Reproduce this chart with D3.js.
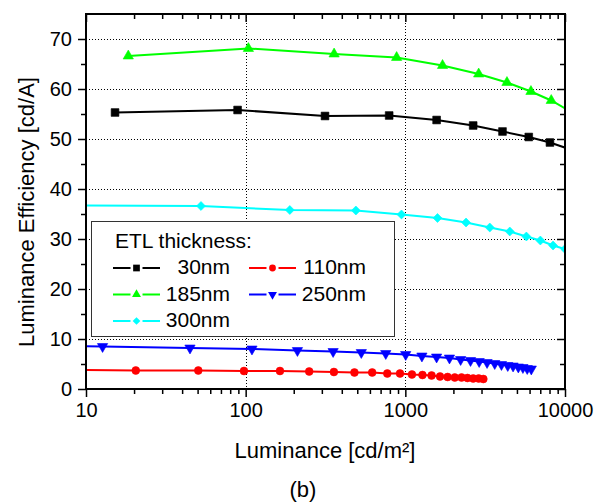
<!DOCTYPE html>
<html>
<head>
<meta charset="utf-8">
<script src="https://cdn.jsdelivr.net/npm/d3@7"></script>
<style>
  body { margin: 0; background: #fff; }
  svg { display: block; font-family: "Liberation Sans", Arial, sans-serif; }
</style>
</head>
<body>
<div id="chart"></div>
<script>
// luminance [cd/m2] and efficiency [cd/A]
const lum30 = [15.2, 89, 314, 792, 1570, 2660, 4060, 5930, 8050, 11500];
const eff30 = [55.3, 55.8, 54.6, 54.7, 53.8, 52.7, 51.5, 50.4, 49.3, 47.6];

const lum110 = [8, 20.5, 50.5, 97.6, 164, 250, 357, 480, 620, 771, 926, 1100, 1280, 1460, 1650, 1840, 2040, 2250, 2450, 2660, 2880, 3080];
const eff110 = [3.8, 3.7, 3.7, 3.6, 3.6, 3.5, 3.4, 3.3, 3.3, 3.1, 3.1, 2.9, 2.8, 2.7, 2.5, 2.4, 2.3, 2.3, 2.2, 2.1, 2.1, 2.0];

const lum185 = [18.4, 104, 358, 882, 1710, 2880, 4330, 6120, 8200, 11500];
const eff185 = [66.6, 68.1, 67.0, 66.3, 64.7, 63.0, 61.3, 59.5, 57.7, 55.0];

const lum250 = [8, 12.7, 44.8, 109.5, 211, 353, 530, 754, 1005, 1270, 1570, 1890, 2220, 2560, 2900, 3250, 3630, 4000, 4380, 4730, 5100, 5450, 5800, 6150];
const eff250 = [8.6, 8.5, 8.2, 8.0, 7.7, 7.5, 7.3, 7.1, 6.9, 6.6, 6.4, 6.2, 5.9, 5.7, 5.5, 5.3, 5.1, 4.9, 4.7, 4.6, 4.4, 4.3, 4.1, 4.0];

const lum300 = [8, 52.5, 189, 490, 946, 1590, 2400, 3380, 4510, 5730, 7010, 8420, 10000];
const eff300 = [36.7, 36.6, 35.8, 35.7, 34.9, 34.2, 33.3, 32.3, 31.5, 30.5, 29.7, 28.7, 28.0];

const seriesNames = ['30nm', '110nm', '185nm', '250nm', '300nm'];
const seriesColors = ['#000000', '#ff0000', '#00ff00', '#0000ff', '#00ffff'];
const seriesSymbols = ['square', 'circle', 'triangle', 'triangleDown', 'diamond'];

const xMajorTicks = [10, 100, 1000, 10000];
const xMinorTicks = [20, 30, 40, 50, 60, 70, 80, 90, 200, 300, 400, 500, 600, 700, 800, 900, 2000, 3000, 4000, 5000, 6000, 7000, 8000, 9000];
const yMajorTicks = [0, 10, 20, 30, 40, 50, 60, 70];
const yMinorTicks = [5, 15, 25, 35, 45, 55, 65];
const xGrid = [100, 1000];
const yGrid = [10, 20, 30, 40, 50, 60, 70];

const svgWidth = 598;
const svgHeight = 503;
const plot = { left: 86, right: 565, top: 14, bottom: 389 };

const svg = d3.select('#chart').append('svg').attr('width', svgWidth).attr('height', svgHeight);
svg.append('rect').attr('width', svgWidth).attr('height', svgHeight).attr('fill', '#fff');

const x = d3.scaleLog().domain([10, 10000]).range([plot.left, plot.right]);
const y = d3.scaleLinear().domain([0, 75]).range([plot.bottom, plot.top]);

svg.append('clipPath').attr('id', 'plot-clip')
  .append('rect')
  .attr('x', plot.left).attr('y', plot.top)
  .attr('width', plot.right - plot.left).attr('height', plot.bottom - plot.top);

// dotted grid
const grid = svg.append('g').attr('stroke', '#000').attr('stroke-width', 1).attr('stroke-dasharray', '1,2');
grid.selectAll('.gx').data(xGrid).join('line')
  .attr('x1', (d) => Math.round(x(d)) + 0.5).attr('x2', (d) => Math.round(x(d)) + 0.5)
  .attr('y1', plot.top).attr('y2', plot.bottom);
grid.selectAll('.gy').data(yGrid).join('line')
  .attr('y1', (d) => Math.round(y(d)) + 0.5).attr('y2', (d) => Math.round(y(d)) + 0.5)
  .attr('x1', plot.left).attr('x2', plot.right);

const symbolFor = (name, scale) => {
  if (name === 'square') return d3.symbol(d3.symbolSquare, 60 * scale)();
  if (name === 'circle') return d3.symbol(d3.symbolCircle, 48 * scale)();
  if (name === 'triangle' || name === 'triangleDown') return d3.symbol(d3.symbolTriangle, 46 * scale)();
  return d3.symbol(d3.symbolSquare, 40 * scale)();
};
const symbolRotate = (name) => (name === 'triangleDown' ? 180 : name === 'diamond' ? 45 : 0);

const allSeries = [
  { lum: lum30, eff: eff30 },
  { lum: lum110, eff: eff110 },
  { lum: lum185, eff: eff185 },
  { lum: lum250, eff: eff250 },
  { lum: lum300, eff: eff300 },
];

const line = d3.line().x((d) => x(d[0])).y((d) => y(d[1]));
const dataLayer = svg.append('g').attr('clip-path', 'url(#plot-clip)');

allSeries.forEach((s, i) => {
  const pts = s.lum.map((l, j) => [l, s.eff[j]]);
  dataLayer.append('path').datum(pts)
    .attr('fill', 'none').attr('stroke', seriesColors[i]).attr('stroke-width', 2)
    .attr('d', line);
  dataLayer.append('g').selectAll('path').data(pts.filter((d) => d[0] >= 10)).join('path')
    .attr('d', symbolFor(seriesSymbols[i], 1))
    .attr('transform', (d) => `translate(${x(d[0])},${y(d[1])}) rotate(${symbolRotate(seriesSymbols[i])})`)
    .attr('fill', seriesColors[i]).attr('stroke', seriesColors[i]).attr('stroke-width', 0.6);
});

// legend
const legend = svg.append('g');
legend.append('rect')
  .attr('x', 91.5).attr('y', 221.5).attr('width', 303).attr('height', 115)
  .attr('fill', '#fff').attr('stroke', '#333').attr('stroke-width', 1);
legend.append('text').attr('x', 115).attr('y', 248).style('font-size', '21px').text('ETL thickness:');

const legendCols = [{ x0: 113, textEnd: 230 }, { x0: 249, textEnd: 366 }];
const legendRows = [274, 300.5, 327];
const legendPos = [[0, 0], [1, 0], [0, 1], [1, 1], [0, 2]];
seriesNames.forEach((name, i) => {
  const col = legendCols[legendPos[i][0]];
  const base = legendRows[legendPos[i][1]];
  const cy = base - 6;
  const cx = col.x0 + 23.5;
  const g = legend.append('g');
  g.append('line').attr('x1', col.x0).attr('x2', cx - 6).attr('y1', cy).attr('y2', cy)
    .attr('stroke', seriesColors[i]).attr('stroke-width', 2);
  g.append('line').attr('x1', cx + 6).attr('x2', col.x0 + 47).attr('y1', cy).attr('y2', cy)
    .attr('stroke', seriesColors[i]).attr('stroke-width', 2);
  g.append('path').attr('d', symbolFor(seriesSymbols[i], 0.75))
    .attr('transform', `translate(${cx},${cy}) rotate(${symbolRotate(seriesSymbols[i])})`)
    .attr('fill', seriesColors[i]);
  g.append('text').attr('x', col.textEnd).attr('y', base).attr('text-anchor', 'end')
    .style('font-size', '21px').text(name);
});

// axes
const styleAxis = (g) => {
  g.select('.domain').remove();
  g.selectAll('.tick line').attr('stroke', '#000').attr('stroke-width', 1.5);
  g.selectAll('.tick text').attr('fill', '#000').style('font-size', '20px').style('font-family', '"Liberation Sans", Arial, sans-serif');
};

svg.append('g').attr('transform', `translate(0,${plot.bottom})`)
  .call(d3.axisBottom(x).tickValues(xMajorTicks).tickFormat(d3.format('d')).tickSize(8).tickSizeOuter(0).tickPadding(6))
  .call(styleAxis);
svg.append('g').attr('transform', `translate(0,${plot.bottom})`)
  .call(d3.axisBottom(x).tickValues(xMinorTicks).tickFormat('').tickSize(5).tickSizeOuter(0))
  .call(styleAxis);
svg.append('g').attr('transform', `translate(0,${plot.top})`)
  .call(d3.axisBottom(x).tickValues(xMajorTicks).tickFormat('').tickSize(8).tickSizeOuter(0))
  .call(styleAxis);
svg.append('g').attr('transform', `translate(0,${plot.top})`)
  .call(d3.axisBottom(x).tickValues(xMinorTicks).tickFormat('').tickSize(5).tickSizeOuter(0))
  .call(styleAxis);

svg.append('g').attr('transform', `translate(${plot.left},0)`)
  .call(d3.axisLeft(y).tickValues(yMajorTicks).tickSize(8).tickSizeOuter(0).tickPadding(6))
  .call(styleAxis);
svg.append('g').attr('transform', `translate(${plot.left},0)`)
  .call(d3.axisLeft(y).tickValues(yMinorTicks).tickFormat('').tickSize(5).tickSizeOuter(0))
  .call(styleAxis);
svg.append('g').attr('transform', `translate(${plot.right},0)`)
  .call(d3.axisLeft(y).tickValues(yMajorTicks).tickFormat('').tickSize(8).tickSizeOuter(0))
  .call(styleAxis);
svg.append('g').attr('transform', `translate(${plot.right},0)`)
  .call(d3.axisLeft(y).tickValues(yMinorTicks).tickFormat('').tickSize(5).tickSizeOuter(0))
  .call(styleAxis);

// frame
svg.append('rect')
  .attr('x', plot.left).attr('y', plot.top)
  .attr('width', plot.right - plot.left).attr('height', plot.bottom - plot.top)
  .attr('fill', 'none').attr('stroke', '#000').attr('stroke-width', 2);

// titles
svg.append('text').attr('x', 325).attr('y', 458).attr('text-anchor', 'middle')
  .style('font-size', '22px').text('Luminance [cd/m²]');
svg.append('text').attr('transform', 'translate(34,212) rotate(-90)').attr('text-anchor', 'middle')
  .style('font-size', '22px').text('Luminance Efficiency [cd/A]');
svg.append('text').attr('x', 303).attr('y', 497).attr('text-anchor', 'middle')
  .style('font-size', '22px').text('(b)');
</script>
</body>
</html>
